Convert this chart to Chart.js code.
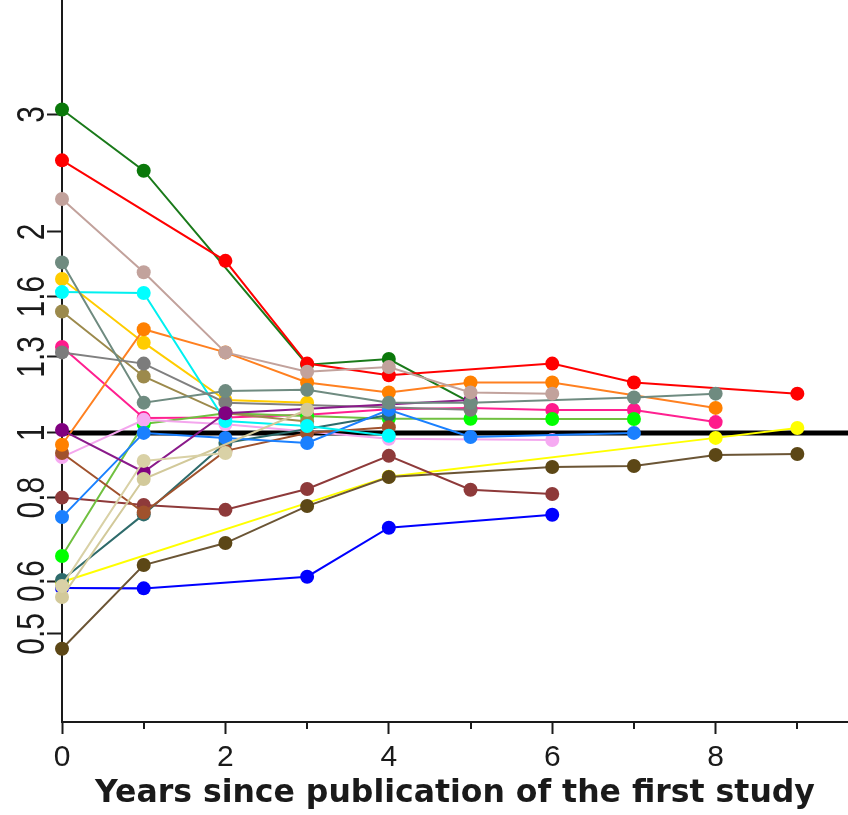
<!DOCTYPE html>
<html>
<head>
<meta charset="utf-8">
<script src="https://cdn.jsdelivr.net/npm/chart.js@4.4.1/dist/chart.umd.min.js"></script>
<style>
  html, body { margin: 0; padding: 0; background: #fff; }
  #wrap { width: 848px; height: 815px; }
</style>
</head>
<body>
<div id="wrap"><canvas id="trend"></canvas></div>
<script>
// =========================
// DATA
// =========================
// years since the first study; one value per year, null = no update that year
const years = [0, 1, 2, 3, 4, 5, 6, 7, 8, 9];

const darkGreen  = [3.05, 2.47, null, 1.265, 1.29, 1.11, null, null, null, null];
const red        = [2.56, null, 1.81, 1.27, 1.22, null, 1.27, 1.19, null, 1.145];
const rosyBrown  = [2.24, 1.74, 1.32, 1.235, 1.255, 1.15, 1.145, null, null, null];
const slate      = [1.80, 1.11, 1.155, 1.16, 1.11, 1.11, null, 1.13, 1.145, null];
const gold       = [1.70, 1.365, 1.12, 1.11, null, null, null, null, null, null];
const cyan       = [1.625, 1.62, 1.042, 1.024, 0.99, null, null, null, null, null];
const olive      = [1.52, 1.215, 1.07, 1.04, null, null, null, null, null, null];
const deepPink   = [1.345, 1.053, 1.055, 1.065, 1.085, 1.09, 1.082, 1.082, 1.038, null];
const gray       = [1.32, 1.27, 1.11, null, null, 1.083, null, null, null, null];
const purple     = [1.01, 0.874, 1.07, null, null, 1.12, null, null, null, null];
const orange     = [0.96, 1.43, 1.32, 1.19, 1.15, 1.19, 1.19, null, 1.09, null];
const sienna     = [0.933, 0.76, 0.94, 1.0, 1.02, null, null, null, null, null];
const maroon     = [0.80, 0.78, 0.767, 0.824, 0.924, 0.822, 0.81, null, null, null];
const lavender   = [0.92, 1.046, 1.03, null, 0.98, null, 0.976, null, null, null];
const dodgerBlue = [0.748, 1.0, 0.983, 0.966, 1.083, 0.986, null, 1.0, null, null];
const lime       = [0.654, 1.031, 1.07, 1.06, 1.05, 1.05, 1.049, 1.049, null, null];
const darkTeal   = [0.602, 0.755, 0.966, null, 1.064, null, null, null, null, null];
const yellow     = [0.598, null, null, null, 0.86, null, null, null, 0.983, 1.017];
const darkBrown  = [0.475, 0.634, 0.684, 0.777, 0.859, null, 0.889, 0.892, 0.927, 0.93];
const blue       = [0.586, 0.585, null, 0.609, 0.721, null, 0.754, null, null, null];
const tan        = [0.568, 0.853, null, 1.083, null, null, null, null, null, null];
const khaki      = [0.59, 0.908, 0.933, null, null, null, null, null, null, null];

// no-effect reference
const refValue = 1;

const yTicks = [0.5, 0.6, 0.8, 1, 1.3, 1.6, 2, 3];
const xLabelled = [0, 2, 4, 6, 8];

// =========================
// STYLE
// =========================
const X_MAX = 9.62;
const Y_MIN = 0.369;
const Y_MAX = 4.45;
const FONT = '"Liberation Sans", Arial, Helvetica, sans-serif';
const TITLE_FONT = '"DejaVu Sans", "Liberation Sans", Arial, sans-serif';
const INK = '#1a1a1a';

// first entry ends up on top
const series = [
    { data: rosyBrown,  line: '#c2a29c', dot: '#c2a29c' },
    { data: slate,      line: '#6f8b80', dot: '#6f8b80' },
    { data: khaki,      line: '#d9d1a6', dot: '#d9d1a6' },
    { data: tan,        line: '#d2c99a', dot: '#d2c99a' },
    { data: purple,     line: '#8a1a8a', dot: '#800080' },
    { data: gray,       line: '#808080', dot: '#7c7c7c' },
    { data: cyan,       line: '#00f0f0', dot: '#00ffff' },
    { data: dodgerBlue, line: '#1a80ff', dot: '#1a80ff' },
    { data: olive,      line: '#9c8a4c', dot: '#9c8a4c' },
    { data: orange,     line: '#ff8020', dot: '#ff8000' },
    { data: sienna,     line: '#a0522d', dot: '#a0522d' },
    { data: darkTeal,   line: '#2e6b6b', dot: '#2e6b6b' },
    { data: lavender,   line: '#f4a6ee', dot: '#f6aaf2' },
    { data: lime,       line: '#70c040', dot: '#00ff00' },
    { data: deepPink,   line: '#ff2090', dot: '#ff1a8c' },
    { data: gold,       line: '#ffcc00', dot: '#ffcc00' },
    { data: maroon,     line: '#8e3a3a', dot: '#8e3a3a' },
    { data: darkBrown,  line: '#6b5535', dot: '#5c4716' },
    { data: yellow,     line: '#ffff00', dot: '#ffff00' },
    { data: blue,       line: '#0000ff', dot: '#0000ff' },
    { data: red,        line: '#ff0000', dot: '#ff0000' },
    { data: darkGreen,  line: '#1a7a1a', dot: '#0a780a' }
];

function toPoints(values) {
    const pts = [];
    values.forEach((v, i) => {
        if (v !== null) pts.push({ x: years[i], y: v });
    });
    return pts;
}

const datasets = series.map(s => ({
    data: toPoints(s.data),
    borderColor: s.line,
    backgroundColor: s.dot,
    pointBackgroundColor: s.dot,
    pointBorderWidth: 0,
    pointRadius: 7,
    borderWidth: 2,
    tension: 0,
    clip: false
}));

// thick line at 1 sits under every series
datasets.push({
    data: [{ x: 0, y: refValue }, { x: X_MAX, y: refValue }],
    borderColor: '#000',
    borderWidth: 5,
    pointRadius: 0,
    clip: false
});

// =========================
// AXIS EXTRAS
// =========================
// rotated (and slightly widened) y labels + short marks on odd years
const axisExtras = {
    id: 'axisExtras',
    afterDraw(chart) {
        const { ctx, scales: { x, y } } = chart;
        ctx.save();
        ctx.font = '30px ' + FONT;
        ctx.fillStyle = INK;
        ctx.textAlign = 'center';
        ctx.textBaseline = 'alphabetic';
        yTicks.forEach(v => {
            const py = y.getPixelForValue(v);
            ctx.save();
            ctx.translate(44, py);
            ctx.scale(1.3, 1);
            ctx.rotate(-Math.PI / 2);
            ctx.fillText(String(v), 0, 0);
            ctx.restore();
        });

        ctx.strokeStyle = INK;
        ctx.lineWidth = 2;
        years.filter(v => v % 2 === 1).forEach(v => {
            const px = Math.round(x.getPixelForValue(v));
            ctx.beginPath();
            ctx.moveTo(px, x.top);
            ctx.lineTo(px, x.top + 7);
            ctx.stroke();
        });
        ctx.restore();
    }
};

// =========================
// CHART
// =========================
new Chart(document.getElementById('trend'), {
    type: 'line',
    data: { datasets },
    plugins: [axisExtras],
    options: {
        responsive: true,
        maintainAspectRatio: false,
        animation: false,
        layout: { padding: 0, autoPadding: false },
        plugins: {
            legend: { display: false },
            tooltip: { enabled: false }
        },
        scales: {
            x: {
                type: 'linear',
                min: 0,
                max: X_MAX,
                afterBuildTicks(scale) {
                    scale.ticks = years.map(v => ({ value: v }));
                },
                afterFit(scale) {
                    scale.height = 93;
                    scale.paddingLeft = 0;
                    scale.paddingRight = 0;
                },
                ticks: {
                    autoSkip: false,
                    maxRotation: 0,
                    padding: 6,
                    color: INK,
                    font: { family: FONT, size: 30 },
                    callback: v => (xLabelled.includes(v) ? String(v) : '')
                },
                grid: {
                    drawOnChartArea: false,
                    tickLength: 12,
                    tickWidth: 2,
                    tickColor: c => (c.tick && c.tick.value % 2 === 0 ? INK : 'rgba(0,0,0,0)')
                },
                border: { display: true, color: INK, width: 2 },
                title: {
                    display: true,
                    text: 'Years since publication of the first study',
                    color: INK,
                    padding: { top: 0, bottom: 2 },
                    font: { family: TITLE_FONT, size: 31.5, weight: 'bold' }
                }
            },
            y: {
                type: 'logarithmic',
                min: Y_MIN,
                max: Y_MAX,
                afterBuildTicks(scale) {
                    scale.ticks = yTicks.map(v => ({ value: v }));
                },
                afterFit(scale) {
                    scale.width = 62;
                    scale.paddingTop = 0;
                    scale.paddingBottom = 0;
                },
                ticks: { display: false },
                grid: {
                    drawOnChartArea: false,
                    tickLength: 15,
                    tickWidth: 2,
                    tickColor: INK
                },
                border: { display: true, color: INK, width: 2 }
            }
        }
    }
});
</script>
</body>
</html>
